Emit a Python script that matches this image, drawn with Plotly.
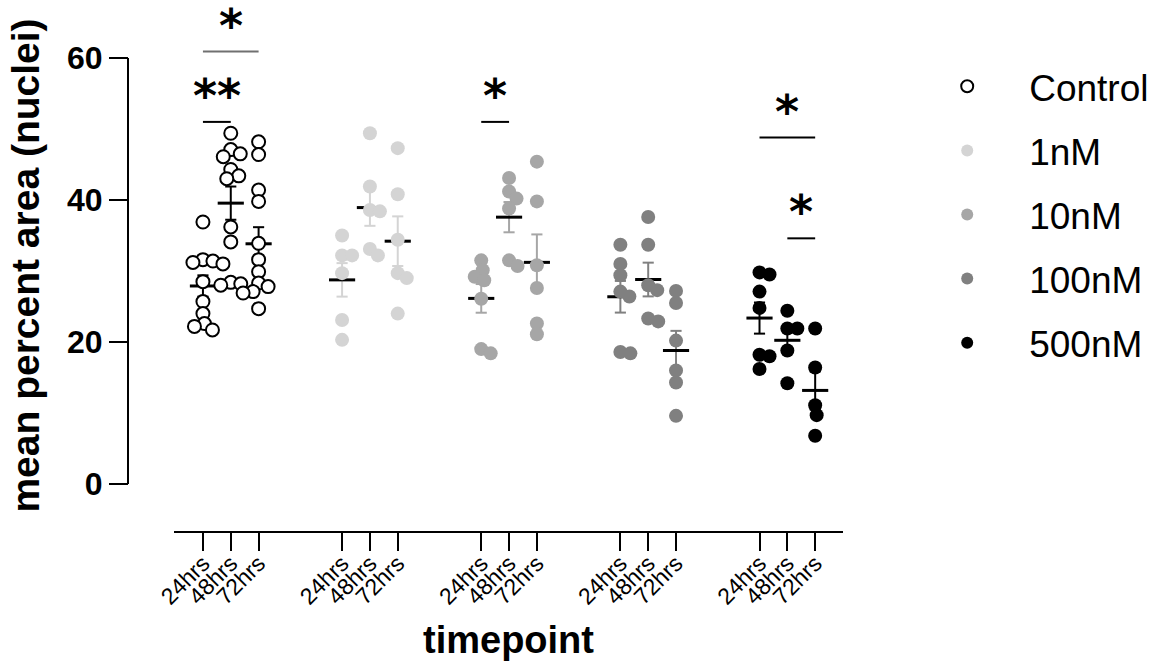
import numpy as np
import plotly.graph_objects as go

# ---------------- data ----------------
groups = ["Control", "1nM", "10nM", "100nM", "500nM"]
timepoints = ["24hrs", "48hrs", "72hrs"]

control_24 = [36.9, 31.6, 31.4, 31.2, 31.0, 28.5, 25.7, 24.0, 22.6, 22.2, 21.7]
control_48 = [49.4, 47.1, 46.5, 46.1, 44.3, 43.4, 43.0, 36.2, 34.1, 28.4, 28.2, 28.0]
control_72 = [48.2, 46.4, 41.4, 39.8, 33.9, 31.6, 29.9, 28.3, 27.8, 27.1, 26.9, 24.7]
nm1_24 = [35.0, 32.2, 32.2, 29.7, 23.1, 20.3]
nm1_48 = [49.4, 41.9, 38.6, 38.4, 33.1, 32.2]
nm1_72 = [47.3, 40.8, 34.4, 29.7, 29.0, 24.0]
nm10_24 = [31.5, 30.1, 29.2, 28.7, 26.1, 19.0, 18.4]
nm10_48 = [43.1, 41.2, 40.2, 38.8, 31.5, 30.7]
nm10_72 = [45.4, 39.8, 30.8, 27.6, 22.6, 21.1]
nm100_24 = [33.7, 31.0, 29.4, 27.1, 26.4, 18.6, 18.4]
nm100_48 = [37.6, 33.7, 28.0, 27.3, 23.3, 22.9]
nm100_72 = [27.2, 25.5, 20.2, 16.0, 14.3, 9.6]
nm500_24 = [29.8, 29.5, 27.1, 24.8, 18.2, 18.0, 16.2]
nm500_48 = [24.4, 21.9, 21.9, 18.8, 14.2]
nm500_72 = [21.9, 16.4, 11.1, 9.7, 6.8]

series = [
    [control_24, control_48, control_72],
    [nm1_24, nm1_48, nm1_72],
    [nm10_24, nm10_48, nm10_72],
    [nm100_24, nm100_48, nm100_72],
    [nm500_24, nm500_48, nm500_72],
]

# significance comparisons: (group, time a, time b, level, label)
comparisons = [
    (0, 0, 2, 60.9, "*"),
    (0, 0, 1, 51.0, "**"),
    (2, 0, 1, 51.0, "*"),
    (4, 0, 2, 48.8, "*"),
    (4, 1, 2, 34.6, "*"),
]

# ---------------- style ----------------
fill_colors = ["white", "#d4d4d4", "#a6a6a6", "#808080", "black"]
err_colors = ["black", "#d4d4d4", "#a6a6a6", "#808080", "black"]
FONT = "Liberation Sans, Arial, sans-serif"

GROUP_STEP = 5
X_RANGE = [-1.04, 23.0]
Y_RANGE = [-6.62, 68.17]
W, H = 1161, 672
ML, MR, MT, MB = 128, 318, 0, 141
plot_w = W - ML - MR
plot_h = H - MT - MB
x_dom0 = 46 / plot_w
ux = plot_w * (1 - x_dom0) / (X_RANGE[1] - X_RANGE[0])
uy = plot_h / (Y_RANGE[1] - Y_RANGE[0])


def swarm(vals, dmin=10.0, step=0.5):
    placed, offs = [], []
    for v in vals:
        yp = v * uy
        k = 0
        while True:
            cand = ((k + 1) // 2) * step * (1 if k % 2 == 1 else -1)
            if all((cand - px) ** 2 + (yp - py) ** 2 >= dmin ** 2 for px, py in placed):
                break
            k += 1
        placed.append((cand, yp))
        offs.append(cand / ux)
    return offs


fig = go.Figure()

tickvals, ticktext = [], []
line_traces, point_traces = [], []
for g, gname in enumerate(groups):
    ex, ey, mx, my = [], [], [], []
    px, py = [], []
    for t, vals in enumerate(series[g]):
        xc = GROUP_STEP * g + t
        tickvals.append(xc)
        ticktext.append(timepoints[t])
        arr = np.array(vals, dtype=float)
        m = arr.mean()
        s = arr.std(ddof=1) / np.sqrt(len(arr))
        cw, mw = 0.2, 0.47
        ex += [xc, xc, None, xc - cw, xc + cw, None, xc - cw, xc + cw, None]
        ey += [m - s, m + s, None, m + s, m + s, None, m - s, m - s, None]
        mx += [xc - mw, xc + mw, None]
        my += [m, m, None]
        offs = swarm(vals)
        px += [xc + o for o in offs]
        py += list(vals)
    line_traces.append(go.Scatter(x=ex, y=ey, mode="lines", showlegend=False, hoverinfo="skip",
                                  line=dict(color=err_colors[g], width=2)))
    line_traces.append(go.Scatter(x=mx, y=my, mode="lines", showlegend=False, hoverinfo="skip",
                                  line=dict(color="black", width=3)))
    if g == 0:
        marker = dict(size=13, color="white", line=dict(color="black", width=2))
    else:
        marker = dict(size=14, color=fill_colors[g], line=dict(width=0))
    point_traces.append(go.Scatter(x=px, y=py, mode="markers", name=gname, marker=marker,
                                   legendgroup=gname, cliponaxis=False))

for tr in line_traces + point_traces:
    fig.add_trace(tr)

shapes = [dict(type="line", xref="paper", yref="y", x0=0, x1=0, y0=0, y1=60,
               line=dict(color="black", width=2))]
annotations = []
for i, (g, ta, tb, level, label) in enumerate(comparisons):
    xa = GROUP_STEP * g + ta
    xb = GROUP_STEP * g + tb
    col = "#707070" if i == 0 else "black"
    shapes.append(dict(type="line", xref="x", yref="y", x0=xa, x1=xb, y0=level, y1=level,
                       line=dict(color=col, width=2)))
    annotations.append(dict(x=(xa + xb) / 2, y=level, xref="x", yref="y", text=label,
                            showarrow=False, yanchor="middle", yshift=26,
                            font=dict(family="DejaVu Sans", size=46, color="black", weight="bold")))

fig.update_layout(
    width=W, height=H,
    margin=dict(l=ML, r=MR, t=MT, b=MB, autoexpand=False),
    paper_bgcolor="white", plot_bgcolor="white",
    font=dict(family=FONT, color="black"),
    shapes=shapes, annotations=annotations,
    showlegend=True,
    legend=dict(x=1.087, y=0.895, xanchor="left", yanchor="top",
                font=dict(family=FONT, size=37, color="black"),
                itemsizing="constant", itemwidth=114, tracegroupgap=13,
                bgcolor="rgba(0,0,0,0)"),
    xaxis=dict(domain=[x_dom0, 1], range=X_RANGE, tickmode="array",
               tickvals=tickvals, ticktext=ticktext, tickangle=-45,
               ticks="outside", ticklen=18, tickwidth=2, tickcolor="black",
               showline=True, linewidth=2, linecolor="black",
               showgrid=False, zeroline=False, automargin=False,
               ticklabelstandoff=-10,
               tickfont=dict(family=FONT, size=23, color="black"),
               title=dict(text="timepoint", standoff=18,
                          font=dict(family=FONT, size=38, color="black", weight="bold"))),
    yaxis=dict(anchor="free", position=0, range=Y_RANGE, tickmode="array",
               tickvals=[0, 20, 40, 60], ticks="outside", ticklen=19, tickwidth=2,
               tickcolor="black", showline=False, showgrid=False, zeroline=False,
               automargin=False,
               tickfont=dict(family=FONT, size=32, color="black", weight="bold"),
               title=dict(text="mean percent area (nuclei)", standoff=14,
                          font=dict(family=FONT, size=39, color="black", weight="bold"))),
)

fig.write_html("out.html")
